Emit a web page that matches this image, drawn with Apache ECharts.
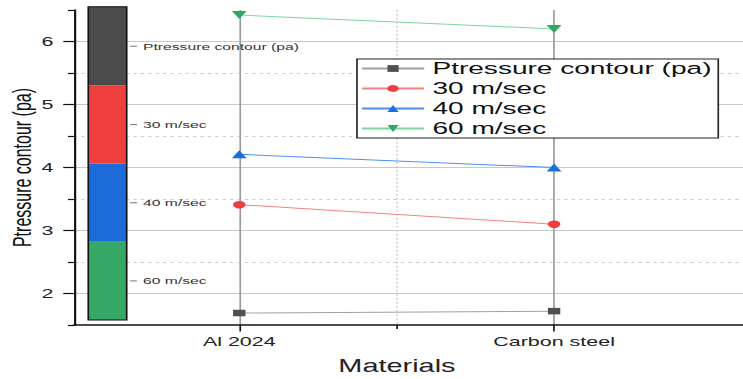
<!DOCTYPE html>
<html><head><meta charset="utf-8">
<script src="https://cdn.jsdelivr.net/npm/echarts@6/dist/echarts.min.js"></script>
<style>
html,body{margin:0;padding:0;background:#fff;overflow:hidden}
#wrap{width:743px;height:379px;overflow:hidden;position:relative;background:#fff}
#c{width:450px;height:379px;transform:scaleX(1.65111);transform-origin:0 0;}
</style></head>
<body><div id="wrap"><div id="c"></div></div>
<script>
// ---- data ----
const categories = ['Al 2024', 'Carbon steel'];
const categoryPositions = [1, 2];
const seriesNames = ['Ptressure contour (pa)', '30 m/sec', '40 m/sec', '60 m/sec'];
const pressureContour = [1.69, 1.72];
const speed30 = [3.41, 3.10];
const speed40 = [4.21, 4.00];
const speed60 = [6.42, 6.20];
const yTicks = [2, 3, 4, 5, 6];
const yMinorTicks = [2.5, 3.5, 4.5, 5.5];
const yEdgeTicks = [1.5, 6.5];
const xMinorTicks = [1.5];
const scaleLabels = ['60 m/sec', '40 m/sec', '30 m/sec', 'Ptressure contour (pa)'];
const scaleBounds = [1.58, 2.82, 4.06, 5.30, 6.55];

// ---- styles ----
const scaleColors = ['#36a866', '#1d6ad9', '#ef3e3e', '#4b4b4b'];
const BAR_X0 = 0.5204, BAR_X1 = 0.6425;
const FONT = '"Liberation Sans", Arial, sans-serif';

const chart = echarts.init(document.getElementById('c'), null, {renderer: 'svg'});

function pts(vals) { return categoryPositions.map((x, i) => [x, vals[i]]); }

function renderSegment(params, api) {
  const lo = api.value(1), hi = api.value(2), i = params.dataIndex;
  const p0 = api.coord([BAR_X0, hi]);
  const p1 = api.coord([BAR_X1, lo]);
  const mid = api.coord([BAR_X1, (lo + hi) / 2]);
  return {
    type: 'group',
    children: [
      {type: 'rect', shape: {x: p0[0], y: p0[1], width: p1[0] - p0[0], height: p1[1] - p0[1]},
       style: {fill: scaleColors[i]}},
      {type: 'line', shape: {x1: mid[0] + 2, y1: mid[1], x2: mid[0] + 6.3, y2: mid[1]},
       style: {stroke: '#777', lineWidth: 1}},
      {type: 'text', x: mid[0] + 9.9, y: mid[1],
       style: {text: scaleLabels[i], fill: '#333', font: '9.5px ' + FONT,
               align: 'left', verticalAlign: 'middle', textAlign: 'left', textVerticalAlign: 'middle'}}
    ]
  };
}
function renderOutline(params, api) {
  const p0 = api.coord([BAR_X0, api.value(2)]);
  const p1 = api.coord([BAR_X1, api.value(1)]);
  return {type: 'rect', shape: {x: p0[0], y: p0[1], width: p1[0] - p0[0], height: p1[1] - p0[1]},
          style: {fill: 'none', stroke: '#111', lineWidth: 1}};
}

const option = {
  animation: false,
  backgroundColor: '#fff',
  textStyle: {fontFamily: FONT},
  grid: {left: 44.8, right: 0, top: 10, bottom: 54, containLabel: false, outerBoundsMode: 'none'},
  legend: {
    orient: 'vertical', left: 216.2, top: 59,
    data: seriesNames,
    itemWidth: 37.7, itemHeight: 8.5, itemGap: 3,
    padding: [1, 4, 1, 2],
    backgroundColor: '#fff', borderColor: '#222', borderWidth: 1,
    textStyle: {fontSize: 17, color: '#111', lineHeight: 17, fontFamily: FONT}
  },
  xAxis: [
    {
      type: 'value', min: 0.475, max: 2.6, position: 'bottom',
      axisLine: {show: true, lineStyle: {color: '#111', width: 1.6}},
      axisTick: {show: true, customValues: categoryPositions, length: 6.5, lineStyle: {color: '#111', width: 1}},
      axisLabel: {customValues: categoryPositions, fontSize: 13, margin: 10, color: '#222',
                  formatter: v => categories[categoryPositions.indexOf(v)] || ''},
      splitLine: {show: true, lineStyle: {color: '#999', width: 1}},
      name: 'Materials', nameLocation: 'middle', nameGap: 31.5, nameMoveOverlap: false,
      nameTextStyle: {fontSize: 17.5, color: '#222', padding: [0, 14, 0, 0]}
    },
    {
      type: 'value', min: 0.475, max: 2.6, position: 'bottom', offset: 0,
      axisLine: {show: false},
      axisTick: {show: true, customValues: xMinorTicks, length: 4, lineStyle: {color: '#111', width: 1}},
      axisLabel: {show: false},
      splitLine: {show: true, lineStyle: {color: '#ccc', width: 1, type: [1.5, 2.5]}}
    }
  ],
  yAxis: [
    {
      type: 'value', min: 1.5, max: 6.5, position: 'left', offset: 0,
      axisLine: {show: true, lineStyle: {color: '#111', width: 1.3}},
      axisTick: {show: true, customValues: yTicks, length: 6.5, lineStyle: {color: '#111', width: 1.2}},
      axisLabel: {customValues: yTicks, fontSize: 13, margin: 12.5, color: '#222'},
      splitLine: {show: true, lineStyle: {color: '#c8c8c8', width: 1.2}},
      name: 'Ptressure contour (pa)', nameLocation: 'middle', nameGap: 23.5, nameMoveOverlap: false,
      nameTextStyle: {fontSize: 16, color: '#111'}
    },
    {
      type: 'value', min: 1.5, max: 6.5, position: 'left', offset: 0,
      axisLine: {show: false},
      axisTick: {show: true, customValues: yMinorTicks, length: 3.6, lineStyle: {color: '#111', width: 1.2}},
      axisLabel: {show: false},
      splitLine: {show: true, lineStyle: {color: '#ccc', width: 1, type: [2, 2.5]}}
    },
    {
      type: 'value', min: 1.5, max: 6.5, position: 'left', offset: 0,
      axisLine: {show: false},
      axisTick: {show: true, customValues: yEdgeTicks, length: 3.6, lineStyle: {color: '#111', width: 1.2}},
      axisLabel: {show: false},
      splitLine: {show: false}
    }
  ],
  series: [
    {
      type: 'custom', name: 'scale', silent: true, clip: false, z: 3,
      xAxisIndex: 0, yAxisIndex: 0,
      renderItem: renderSegment,
      encode: {x: 0, y: [1, 2]},
      data: scaleColors.map((c, i) => [BAR_X0, scaleBounds[i], scaleBounds[i + 1]])
    },
    {
      type: 'custom', name: 'scaleOutline', silent: true, clip: false, z: 4,
      xAxisIndex: 0, yAxisIndex: 0,
      renderItem: renderOutline,
      encode: {x: 0, y: [1, 2]},
      data: [[BAR_X0, scaleBounds[0], scaleBounds[scaleBounds.length - 1]]]
    },
    {
      name: seriesNames[0], type: 'line', data: pts(pressureContour),
      symbol: 'rect', symbolSize: [7.5, 6.5],
      itemStyle: {color: '#505050'}, lineStyle: {color: '#a0a0a0', width: 1}, z: 5
    },
    {
      name: seriesNames[1], type: 'line', data: pts(speed30),
      symbol: 'circle', symbolSize: 7.5,
      itemStyle: {color: '#f03c3c'}, lineStyle: {color: '#f58080', width: 1}, z: 5
    },
    {
      name: seriesNames[2], type: 'line', data: pts(speed40),
      symbol: 'triangle', symbolSize: [9, 8],
      itemStyle: {color: '#1a6fe0'}, lineStyle: {color: '#4d8ff0', width: 1}, z: 5
    },
    {
      name: seriesNames[3], type: 'line', data: pts(speed60),
      symbol: 'triangle', symbolRotate: 180, symbolSize: [9, 8],
      itemStyle: {color: '#2eaa62'}, lineStyle: {color: '#7fd4a2', width: 1}, z: 5
    }
  ]
};
chart.setOption(option);
</script>
</body></html>
